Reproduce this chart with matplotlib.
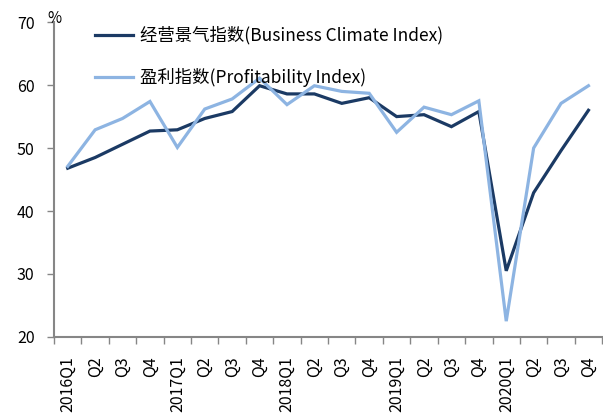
import numpy as np
import matplotlib.pyplot as plt

plt.rcParams['font.family'] = ['Noto Sans CJK SC', 'DejaVu Sans']

quarters = ['2016Q1', 'Q2', 'Q3', 'Q4',
            '2017Q1', 'Q2', 'Q3', 'Q4',
            '2018Q1', 'Q2', 'Q3', 'Q4',
            '2019Q1', 'Q2', 'Q3', 'Q4',
            '2020Q1', 'Q2', 'Q3', 'Q4']

business_climate = [46.8, 48.5, 50.6, 52.7, 52.9, 54.7, 55.8, 59.9,
                    58.6, 58.6, 57.1, 58.0, 55.0, 55.3, 53.4, 55.8,
                    30.5, 42.9, 49.6, 56.0]
profitability = [47.1, 52.9, 54.7, 57.4, 50.1, 56.2, 57.8, 61.1,
                 56.9, 59.9, 59.0, 58.7, 52.5, 56.5, 55.3, 57.5,
                 22.5, 50.0, 57.1, 59.9]

dark = '#1b3a64'
light = '#8db4e2'
axis_gray = '#868686'

fig = plt.figure(figsize=(6.03, 4.18), dpi=100)
ax = fig.add_axes([0.0896, 0.194, 0.909, 0.753])

x = np.arange(len(quarters))
ax.plot(x, business_climate, color=dark, lw=2.3,
        label='经营景气指数(Business Climate Index)', solid_joinstyle='miter')
ax.plot(x, profitability, color=light, lw=2.3,
        label='盈利指数(Profitability Index)', solid_joinstyle='miter')

ax.set_xlim(-0.5, len(quarters) - 0.5)
ax.set_ylim(20, 70)
ax.set_yticks(np.arange(20, 71, 10))
ax.tick_params(axis='y', direction='out', length=5, width=1, color=axis_gray,
               labelsize=11.5, pad=9)

# labels at category centres, tick marks at the boundaries
ax.set_xticks(x)
ax.set_xticklabels(quarters, rotation=90, fontsize=11.5)
ax.set_xticks(np.arange(-0.5, len(quarters)), minor=True)
ax.tick_params(axis='x', which='major', length=0, pad=14)
ax.tick_params(axis='x', which='minor', direction='out', length=5, width=1,
               color=axis_gray)

for side in ['top', 'right']:
    ax.spines[side].set_visible(False)
for side in ['left', 'bottom']:
    ax.spines[side].set_color(axis_gray)
    ax.spines[side].set_linewidth(1.5)

ax.text(0.0, 1.012, '%', transform=ax.transAxes, fontsize=11,
        ha='center', va='center')

ax.legend(loc='upper left', bbox_to_anchor=(0.055, 1.02), frameon=False,
          fontsize=12.5, handlelength=2.2, handletextpad=0.4, labelspacing=1.35,
          borderaxespad=0.2)

plt.savefig('out.png', dpi=100)
